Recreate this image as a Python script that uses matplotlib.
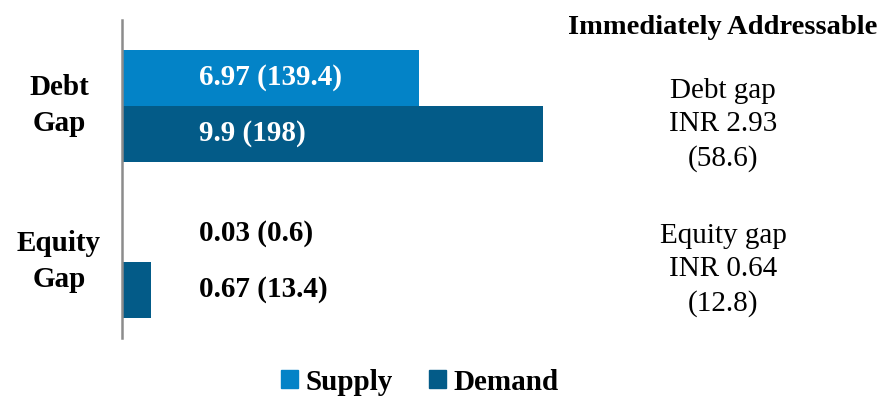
import matplotlib
matplotlib.use("Agg")
import matplotlib.pyplot as plt
from matplotlib.patches import Patch

# gap figures (INR, value in brackets alongside)
categories = ["Debt\nGap", "Equity\nGap"]
supply = [6.97, 0.03]
supply_alt = [139.4, 0.6]
demand = [9.9, 0.67]
demand_alt = [198, 13.4]
addressable = [("Debt gap", 2.93, 58.6), ("Equity gap", 0.64, 12.8)]

supply_color = "#0383C7"
demand_color = "#035B88"

plt.rcParams["font.family"] = ["Liberation Serif", "DejaVu Serif"]

fig = plt.figure(figsize=(8.84, 3.99), dpi=100)
ax = fig.add_axes([122 / 884, 61 / 399, 447 / 884, 318 / 399])

pos = list(range(len(categories)))
h = 0.36
ax.barh([p - h / 2 for p in pos], supply, height=h, color=supply_color)
ax.barh([p + h / 2 for p in pos], demand, height=h, color=demand_color)

ax.set_xlim(0, 10.5)
ax.set_ylim(1.49, -0.55)

for i, p in enumerate(pos):
    # debt labels sit inside the bars, equity bars are too short
    col = "white" if i == 0 else "black"
    ax.text(1.8, p - h / 2, f"{supply[i]:g} ({supply_alt[i]:g})", color=col,
            fontsize=21, fontweight="bold", ha="left", va="center")
    ax.text(1.8, p + h / 2, f"{demand[i]:g} ({demand_alt[i]:g})", color=col,
            fontsize=21, fontweight="bold", ha="left", va="center")
    ax.text(-0.141, p, categories[i], transform=ax.get_yaxis_transform(),
            fontsize=21, fontweight="bold", ha="center", va="center",
            multialignment="center", linespacing=1.45)

for s in ["top", "right", "bottom"]:
    ax.spines[s].set_visible(False)
ax.spines["left"].set_color("#8c8c8c")
ax.spines["left"].set_linewidth(1.8)
ax.set_xticks([])
ax.set_yticks([])

fig.text(723 / 884, 1 - 28 / 399, "Immediately Addressable", fontsize=20.5,
         fontweight="bold", ha="center", va="center")
for (name, val, alt), yc in zip(addressable, [125, 270]):
    fig.text(723 / 884, 1 - yc / 399, f"{name}\nINR {val:.2f}\n({alt:g})",
             fontsize=21, ha="center", va="center", multialignment="center",
             linespacing=1.38)

handles = [Patch(color=supply_color, label="Supply"),
           Patch(color=demand_color, label="Demand")]
fig.legend(handles=handles, loc="center", bbox_to_anchor=(420 / 884, 17 / 399),
           ncol=2, frameon=False, handlelength=0.58, handleheight=0.58,
           handletextpad=0.25, columnspacing=1.25,
           prop={"size": 21, "weight": "bold"})

fig.savefig("out.png", dpi=100)
